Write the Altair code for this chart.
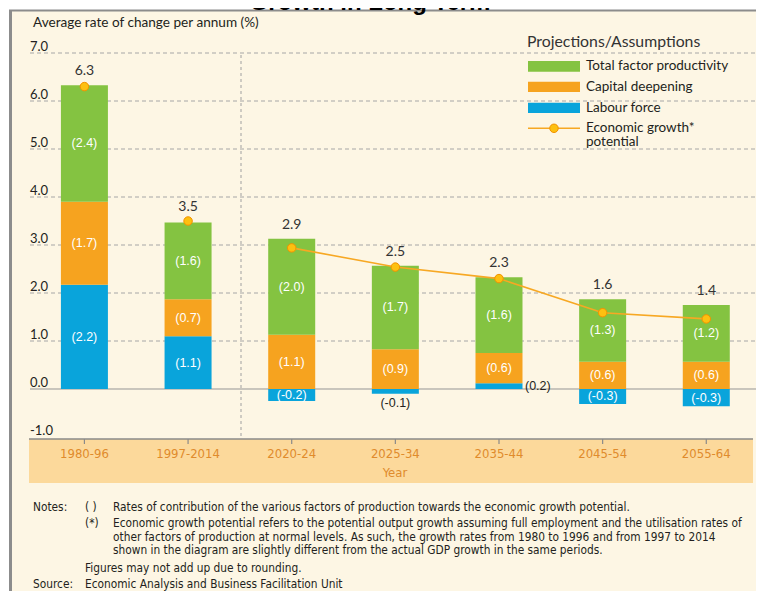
import altair as alt
import pandas as pd

# ---------------- data ----------------
categories = ["1980-96", "1997-2014", "2020-24", "2025-34", "2035-44", "2045-54", "2055-64"]
labour = [2.17, 1.10, -0.25, -0.10, 0.12, -0.31, -0.36]
capital = [1.73, 0.77, 1.13, 0.83, 0.63, 0.57, 0.57]
tfp = [2.43, 1.60, 2.00, 1.74, 1.58, 1.30, 1.18]
growth = [6.3, 3.5, 2.94, 2.54, 2.3, 1.59, 1.46]
labour_labels = ["(2.2)", "(1.1)", "(-0.2)", "(-0.1)", "(0.2)", "(-0.3)", "(-0.3)"]
capital_labels = ["(1.7)", "(0.7)", "(1.1)", "(0.9)", "(0.6)", "(0.6)", "(0.6)"]
tfp_labels = ["(2.4)", "(1.6)", "(2.0)", "(1.7)", "(1.6)", "(1.3)", "(1.2)"]
growth_labels = ["6.3", "3.5", "2.9", "2.5", "2.3", "1.6", "1.4"]
projection_start = 2
y_ticks = [7, 6, 5, 4, 3, 2, 1, 0, -1]

components = ["Labour force", "Capital deepening", "Total factor productivity"]
comp_colors = ["#09a4db", "#f6a31f", "#84c341"]

# ---------------- layout ----------------
W, H = 748, 583
ZERO_PX, PX_PER_UNIT = 381, 48.0
y_dom = [(ZERO_PX - H) / PX_PER_UNIT, ZERO_PX / PX_PER_UNIT]

F_MY = "Lato, 'Open Sans', sans-serif"
F_HC = "'Liberation Sans Narrow', 'Arial Narrow', 'DejaVu Sans Condensed', sans-serif"
F_HS = "'Liberation Sans', Arial, sans-serif"

xs = alt.Scale(domain=categories, range=[24.6, 750.1], paddingInner=0, paddingOuter=0)
ys = alt.Scale(domain=y_dom, nice=False, zero=False)
X = lambda: alt.X("cat:N", scale=xs, axis=None, sort=categories)

# ---------------- tables ----------------
seg_rows, lab_rows, top_rows = [], [], []
for i, c in enumerate(categories):
    base = 0.0
    lf = labour[i]
    if lf >= 0:
        y0, y1 = 0.0, lf
        base = lf
    else:
        y0, y1 = lf, 0.0
    seg_rows.append(dict(cat=c, comp=components[0], y0=y0, y1=y1))
    if abs(lf) < 0.2:
        style = "right" if lf > 0 else "below"
    else:
        style = "in"
    lab_rows.append(dict(cat=c, mid=(y0 + y1) / 2, bot=y0, text=labour_labels[i], style=style))
    for comp, vals, labs in [(components[1], capital, capital_labels), (components[2], tfp, tfp_labels)]:
        y0, y1 = base, base + vals[i]
        seg_rows.append(dict(cat=c, comp=comp, y0=y0, y1=y1))
        lab_rows.append(dict(cat=c, mid=(y0 + y1) / 2, bot=y0, text=labs[i], style="in"))
        base = y1
    top_rows.append(dict(cat=c, g=growth[i], lab=growth_labels[i], ly=max(base, growth[i]),
                         proj=i >= projection_start))

seg = pd.DataFrame(seg_rows)
labs = pd.DataFrame(lab_rows)
tops = pd.DataFrame(top_rows)
ticks = pd.DataFrame({"v": y_ticks, "t": [f"{v:.1f}" for v in y_ticks]})
one = pd.DataFrame({"a": [0]})
cats = pd.DataFrame({"cat": categories})


def txt(s, x, y, size=12, color="#231f20", font=F_HC, align="left", weight="normal", baseline="middle"):
    return alt.Chart(one).mark_text(text=s, align=align, baseline=baseline, fontSize=size, font=font,
                                    color=color, fontWeight=weight).encode(x=alt.value(x), y=alt.value(y))


def box(x, x2, y, y2, color):
    return alt.Chart(one).mark_rect(color=color).encode(
        x=alt.value(x), x2=alt.value(x2), y=alt.value(y), y2=alt.value(y2))


def hline(x, x2, y, color="#8c8c8c", width=1, dash=None):
    kw = dict(color=color, strokeWidth=width)
    if dash:
        kw["strokeDash"] = dash
    return alt.Chart(one).mark_rule(**kw).encode(x=alt.value(x), x2=alt.value(x2), y=alt.value(y))


layers = []
# frame and background
layers.append(box(1, W, 2, H, "#fdf6e4"))
layers.append(alt.Chart(one).mark_rule(color="#8c8c8c", strokeWidth=3).encode(
    x=alt.value(2.5), y=alt.value(2), y2=alt.value(H)))
layers.append(hline(1, W, 2.5, width=2))
layers.append(txt("Growth in Long Term", 362, 2, size=24, font="'Liberation Sans', Arial, sans-serif",
                  weight="bold", align="center", baseline="alphabetic", color="#000000"))
# x axis band
layers.append(box(21, 745, 431, 475, "#fcd99b"))

# gridlines
layers.append(alt.Chart(ticks[(ticks.v > 0)]).mark_rule(color="#a6a6a6", strokeWidth=1, strokeDash=[4, 3]).encode(
    y=alt.Y("v:Q", scale=ys, axis=None), x=alt.value(22), x2=alt.value(W)))
layers.append(alt.Chart(ticks[ticks.v == 0]).mark_rule(color="#959595", strokeWidth=1).encode(
    y=alt.Y("v:Q", scale=ys, axis=None), x=alt.value(22), x2=alt.value(W)))
layers.append(alt.Chart(ticks).mark_text(align="left", baseline="alphabetic", dy=-2.5, fontSize=13,
                                         font=F_MY, color="#231f20").encode(
    y=alt.Y("v:Q", scale=ys, axis=None), x=alt.value(22), text="t:N"))
# axis line + ticks + labels
layers.append(hline(21, 745, 431, color="#8a8a8a", width=1.5))
layers.append(alt.Chart(cats).mark_rule(color="#8a8a8a", strokeWidth=1.2).encode(
    x=X(), y=alt.value(431), y2=alt.value(436)))
layers.append(alt.Chart(cats).mark_text(fontSize=13, font=F_HC, color="#e08b2c", baseline="middle").encode(
    x=X(), y=alt.value(446), text="cat:N"))
layers.append(txt("Year", 387, 465, size=13, color="#e08b2c", align="center"))
# projection divider
layers.append(alt.Chart(one).mark_rule(color="#a0a0a0", strokeWidth=1, strokeDash=[3, 3]).encode(
    x=alt.value(233), y=alt.value(47), y2=alt.value(431)))

# bars
layers.append(alt.Chart(seg).mark_bar(width=47).encode(
    x=X(), y=alt.Y("y0:Q", scale=ys, axis=None), y2="y1:Q",
    color=alt.Color("comp:N", scale=alt.Scale(domain=components, range=comp_colors), legend=None)))
# bar labels
layers.append(alt.Chart(labs[labs["style"] == "in"]).mark_text(
    fontSize=12.5, font=F_HS, color="white", baseline="middle").encode(
    x=X(), y=alt.Y("mid:Q", scale=ys, axis=None), text="text:N"))
layers.append(alt.Chart(labs[labs["style"] == "right"]).mark_text(
    fontSize=12.5, font=F_HS, color="#231f20", baseline="middle", align="left", dx=26).encode(
    x=X(), y=alt.Y("mid:Q", scale=ys, axis=None), text="text:N"))
layers.append(alt.Chart(labs[labs["style"] == "below"]).mark_text(
    fontSize=12.5, font=F_HS, color="#231f20", baseline="top", dy=3).encode(
    x=X(), y=alt.Y("bot:Q", scale=ys, axis=None), text="text:N"))

# growth line and points
layers.append(alt.Chart(tops[tops.proj]).mark_line(color="#f7a823", strokeWidth=1.6).encode(
    x=X(), y=alt.Y("g:Q", scale=ys, axis=None)))
layers.append(alt.Chart(tops).mark_point(shape="circle", size=72, fill="#fdc010", stroke="#f39200",
                                         strokeWidth=1, fillOpacity=1, opacity=1).encode(
    x=X(), y=alt.Y("g:Q", scale=ys, axis=None)))
layers.append(alt.Chart(tops).mark_text(fontSize=14, font=F_MY, color="#333333", baseline="middle", dy=-14).encode(
    x=X(), y=alt.Y("ly:Q", scale=ys, axis=None), text="lab:N"))

# axis title
layers.append(txt("Average rate of change per annum (%)", 25, 15, size=13.6, font=F_MY))

# legend
layers.append(txt("Projections/Assumptions", 519, 34, size=15.8, font=F_MY, color="#333333"))
for (yt, yb), col in zip([(53, 63.7), (73.7, 84), (94.7, 105)], comp_colors[::-1]):
    layers.append(box(520, 572, yt, yb, col))
for s, yy in zip(["Total factor productivity", "Capital deepening", "Labour force", "Economic growth*", "potential"],
                 [58, 79, 100, 119.5, 134]):
    layers.append(txt(s, 578, yy, size=13.5, font=F_MY))
layers.append(hline(520, 572, 120.3, color="#f7a823", width=1.6))
layers.append(alt.Chart(one).mark_point(shape="circle", size=72, fill="#fdc010", stroke="#f39200",
                                        strokeWidth=1, fillOpacity=1, opacity=1).encode(
    x=alt.value(546), y=alt.value(120.3)))

# notes
NS = 11.8
layers.append(txt("Notes:", 25, 499, size=NS))
layers.append(txt("( )", 77, 499, size=NS))
layers.append(txt("Rates of contribution of the various factors of production towards the economic growth potential.",
                  105, 499, size=NS))
layers.append(txt("(*)", 77, 515, size=NS))
layers.append(txt("Economic growth potential refers to the potential output growth assuming full employment and the utilisation rates of",
                  105, 515, size=NS))
layers.append(txt("other factors of production at normal levels. As such, the growth rates from 1980 to 1996 and from 1997 to 2014",
                  105, 529, size=NS))
layers.append(txt("shown in the diagram are slightly different from the actual GDP growth in the same periods.",
                  105, 542, size=NS))
layers.append(txt("Figures may not add up due to rounding.", 77, 560, size=NS))
layers.append(txt("Source:", 25, 576, size=NS))
layers.append(txt("Economic Analysis and Business Facilitation Unit", 77, 576, size=NS))

chart = alt.layer(*layers).properties(
    width=W, height=H, padding=0, background="white",
    autosize=alt.AutoSizeParams(type="none"),
).configure_view(stroke=None)

chart.save("out.html", embed_options={"renderer": "svg", "actions": False})
